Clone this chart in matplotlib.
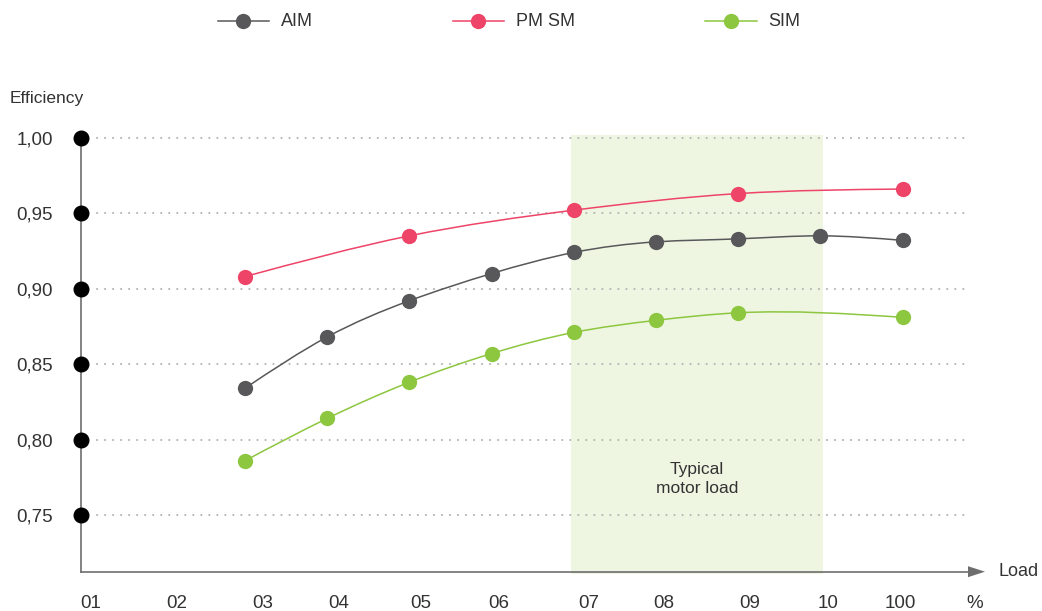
import matplotlib
matplotlib.use("Agg")
import numpy as np
import matplotlib.pyplot as plt
from matplotlib.path import Path
from matplotlib.patches import PathPatch, Rectangle, Polygon
from matplotlib.lines import Line2D

plt.rcParams['font.family'] = ['Liberation Sans', 'DejaVu Sans']

# ---- data ----
series_names = ["AIM", "PM SM", "SIM"]
load_aim = [20, 30, 40, 50, 60, 70, 80, 90, 100]
eff_aim = [0.834, 0.868, 0.892, 0.910, 0.924, 0.931, 0.933, 0.935, 0.932]
load_pm = [20, 40, 60, 80, 100]
eff_pm = [0.908, 0.935, 0.952, 0.963, 0.966]
load_sim = [20, 30, 40, 50, 60, 70, 80, 100]
eff_sim = [0.786, 0.814, 0.838, 0.857, 0.871, 0.879, 0.884, 0.881]

y_ticks = [0.75, 0.80, 0.85, 0.90, 0.95, 1.00]
y_tick_labels = ["0,75", "0,80", "0,85", "0,90", "0,95", "1,00"]
x_tick_labels = ["01", "02", "03", "04", "05", "06", "07", "08", "09", "10", "100", "%"]
x_tick_pos = [1.24, 11.69, 22.19, 31.35, 41.33, 50.82, 61.76, 70.94, 81.35, 90.96, 99.74, 108.77]
typical_range = (59.7, 90.3)

colors = {"AIM": "#58585a", "PM SM": "#ee4468", "SIM": "#8dc63f"}

W, H = 1042, 611
fig = plt.figure(figsize=(W / 100, H / 100), dpi=100)

# axes placement (pixel based)
px_x0, px_right = 80.6, 990.0
px_y_bottom, px_top = 571.7, 100.0
ax = fig.add_axes([px_x0 / W, (H - px_y_bottom) / H,
                   (px_right - px_x0) / W, (px_y_bottom - px_top) / H])
x_per_px = 1 / 8.22
y_per_px = 1 / 1509.0
xmax = (px_right - px_x0) * x_per_px
ymin = 0.75 - (px_y_bottom - 515.0) * y_per_px
ymax = 0.75 + (515.0 - px_top) * y_per_px
ax.set_xlim(0, xmax)
ax.set_ylim(ymin, ymax)
for s in ax.spines.values():
    s.set_visible(False)
ax.patch.set_alpha(0)

# shaded typical region
ax.add_patch(Rectangle((typical_range[0], ymin - 2.6 * y_per_px),
                       typical_range[1] - typical_range[0],
                       1.0 + 2.7 * y_per_px - (ymin - 2.6 * y_per_px),
                       facecolor="#eef6e2", edgecolor="none", zorder=0, clip_on=False))
ax.text(sum(typical_range) / 2, 0.7739, "Typical\nmotor load", ha="center", va="center",
        fontsize=12.5, color="#333333", linespacing=1.35, zorder=1)

# gridlines (dotted)
for yv in y_ticks:
    ax.plot([2.0, 108.0], [yv, yv], color="#b4b4b4", lw=1.5, ls=(0, (0.05, 3.8)),
            dash_capstyle="round", zorder=1)

# axes lines
ax.plot([0, 0], [ymin, 1.0], color="#6e6e6e", lw=1.2, zorder=2, clip_on=False)
arrow_base = (968 - px_x0) * x_per_px
arrow_tip = (985 - px_x0) * x_per_px
ax.plot([0, arrow_base], [ymin, ymin], color="#6e6e6e", lw=1.2, zorder=2, clip_on=False)
hh = 5.5 * y_per_px
ax.add_patch(Polygon([[arrow_base, ymin - hh], [arrow_tip, ymin], [arrow_base, ymin + hh]],
                     closed=True, facecolor="#6e6e6e", edgecolor="none", clip_on=False, zorder=2))
ax.text(arrow_tip + 14 * x_per_px, ymin, "Load", ha="left", va="center",
        fontsize=13, color="#333333", clip_on=False)

# y-axis dots
ax.plot([0] * len(y_ticks), y_ticks, "o", color="black", ms=10.5, zorder=3, clip_on=False)

ax.set_yticks(y_ticks, y_tick_labels)
ax.set_xticks(x_tick_pos, x_tick_labels)
ax.tick_params(axis="y", length=0, pad=20, labelsize=13.5, labelcolor="#333333")
ax.tick_params(axis="x", length=0, pad=17.0, labelsize=13.5, labelcolor="#333333")

ax.text(-(px_x0 - 10) * x_per_px, 0.75 + (515 - 98.8) * y_per_px, "Efficiency",
        ha="left", va="center", fontsize=12.5, color="#333333", clip_on=False)


def natural_slopes(xs, ys):
    x = np.asarray(xs, float)
    y = np.asarray(ys, float)
    n = len(x)
    h = np.diff(x)
    A = np.zeros((n, n))
    b = np.zeros(n)
    A[0, 0] = 1
    A[-1, -1] = 1
    for i in range(1, n - 1):
        A[i, i - 1] = h[i - 1]
        A[i, i] = 2 * (h[i - 1] + h[i])
        A[i, i + 1] = h[i]
        b[i] = 6 * ((y[i + 1] - y[i]) / h[i] - (y[i] - y[i - 1]) / h[i - 1])
    M = np.linalg.solve(A, b)  # second derivatives
    m = np.zeros(n)
    for i in range(n - 1):
        m[i] = (y[i + 1] - y[i]) / h[i] - h[i] * (2 * M[i] + M[i + 1]) / 6
    m[-1] = (y[-1] - y[-2]) / h[-1] + h[-1] * (M[-2] + 2 * M[-1]) / 6
    return m


def smooth_path(xs, ys):
    m = natural_slopes(xs, ys)
    verts = [(xs[0], ys[0])]
    codes = [Path.MOVETO]
    for i in range(len(xs) - 1):
        hseg = xs[i + 1] - xs[i]
        verts += [(xs[i] + hseg / 3, ys[i] + m[i] * hseg / 3),
                  (xs[i + 1] - hseg / 3, ys[i + 1] - m[i + 1] * hseg / 3),
                  (xs[i + 1], ys[i + 1])]
        codes += [Path.CURVE4] * 3
    return Path(verts, codes)


data = {"AIM": (load_aim, eff_aim), "PM SM": (load_pm, eff_pm), "SIM": (load_sim, eff_sim)}
for name in series_names:
    xs, ys = data[name]
    c = colors[name]
    ax.add_patch(PathPatch(smooth_path(xs, ys), facecolor="none", edgecolor=c, lw=1.1, zorder=4))
    ax.plot(xs, ys, "o", color=c, ms=11, mec="none", zorder=5)

# legend (manual)
legend_items = [("AIM", 217.7, 268.7, 281.0), ("PM SM", 452.7, 504.0, 515.5), ("SIM", 705.3, 756.7, 768.7)]
ly = 1 - 21.0 / H
for name, x1, x2, xt in legend_items:
    c = colors[name]
    fig.add_artist(Line2D([x1 / W, x2 / W], [ly, ly], color=c, lw=1.1, transform=fig.transFigure))
    fig.add_artist(Line2D([(x1 + x2) / 2 / W], [ly], marker="o", ms=11, color=c, mec="none",
                          transform=fig.transFigure))
    fig.text(xt / W, ly, name, ha="left", va="center", fontsize=13, color="#333333")

fig.savefig("out.png", dpi=100)
